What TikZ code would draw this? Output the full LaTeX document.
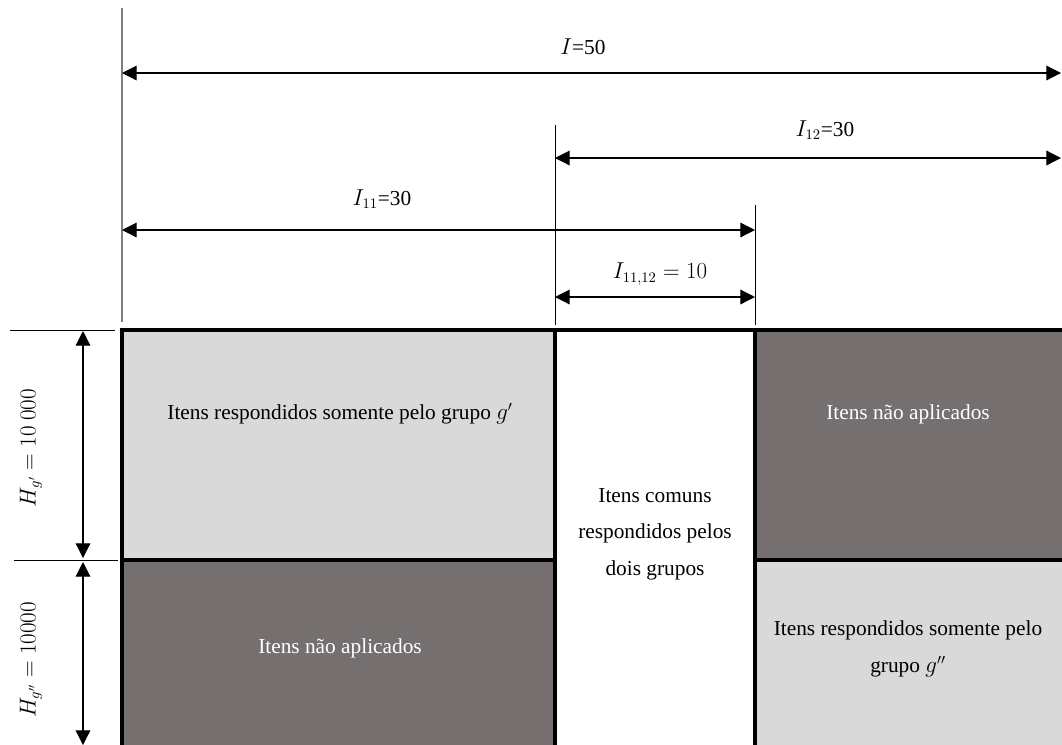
\documentclass[tikz,border=0pt]{standalone}
\usepackage{fontspec}
\setmainfont{Liberation Serif}
\usetikzlibrary{arrows.meta,positioning,calc}
\definecolor{cellLight}{RGB}{217,217,217}
\definecolor{cellDark}{RGB}{117,112,111}
\tikzset{
  dim/.style={{Triangle[length=11pt,width=11pt]}-{Triangle[length=11pt,width=11pt]},line width=0.9pt,shorten <=0pt,shorten >=0pt},
  guide/.style={draw=gray,line width=1.2pt},
  tick/.style={draw=black,line width=0.7pt},
  cell/.style={draw=black,line width=2.7pt},
  txt/.style={font=\fontsize{16}{27.5}\selectfont,align=center,inner sep=0pt},
}
\begin{document}
\begin{tikzpicture}[x=0.75pt,y=-0.75pt]
  \useasboundingbox (0,0) rectangle (1062,744);
  % cells
  \fill[cellLight] (122,330) rectangle (555,560);
  \fill[cellDark] (122,560) rectangle (555,748);
  \fill[cellDark] (755,330) rectangle (1068,560);
  \fill[cellLight] (755,560) rectangle (1068,748);
  \draw[cell] (122,330) rectangle (555,560);
  \draw[cell] (122,560) rectangle (555,750);
  \draw[cell] (555,330) rectangle (755,750);
  \draw[cell] (755,330) rectangle (1068,560);
  \draw[cell] (755,560) rectangle (1068,750);
  \node[txt] (onlyA) at (340,414) {Itens respondidos somente pelo grupo $g'$};
  \node[txt,white] (naA) at (340,648) {Itens não aplicados};
  \node[txt] (common) at (655,534) {Itens comuns\\respondidos pelos\\dois grupos};
  \node[txt,white] (naB) at (908,414) {Itens não aplicados};
  \node[txt] (onlyB) at (908,649) {Itens respondidos somente pelo\\grupo $g''$};
  % guides
  \draw[guide] (122,8) -- (122,322);
  \draw[tick] (555,125) -- (555,325);
  \draw[tick] (755,205) -- (755,325);
  % widths
  \coordinate (iL) at (122,73);   \coordinate (iR) at (1061,73);
  \coordinate (bL) at (555,158);  \coordinate (bR) at (1061,158);
  \coordinate (aL) at (122,230);  \coordinate (aR) at (755,230);
  \coordinate (cL) at (555,297);  \coordinate (cR) at (755,297);
  \draw[dim] (iL) -- (iR);
  \draw[dim] (bL) -- (bR);
  \draw[dim] (aL) -- (aR);
  \draw[dim] (cL) -- (cR);
  \node[txt] (all) at (583,47) {$I$=50};
  \node[txt] (secB) at (825,130) {$I_{12}$=30};
  \node[txt] (secA) at (382,199) {$I_{11}$=30};
  \node[txt] (both) at (660,274) {$I_{11,12} = 10$};
  % heights
  \draw[tick] (10,330) -- (115,330);
  \draw[tick] (14,560) -- (118,560);
  \coordinate (hT) at (83,331); \coordinate (hM) at (83,560); \coordinate (hB) at (83,745);
  \draw[dim] (hT) -- ([yshift=1.5pt]hM);
  \draw[dim] ([yshift=-1.5pt]hM) -- (hB);
  \node[txt,rotate=90] (grpA) at (31,448) {$H_{g'} = 10\ 000$};
  \node[txt,rotate=90] (grpB) at (31,660) {$H_{g''} = 10000$};
\end{tikzpicture}
\end{document}
